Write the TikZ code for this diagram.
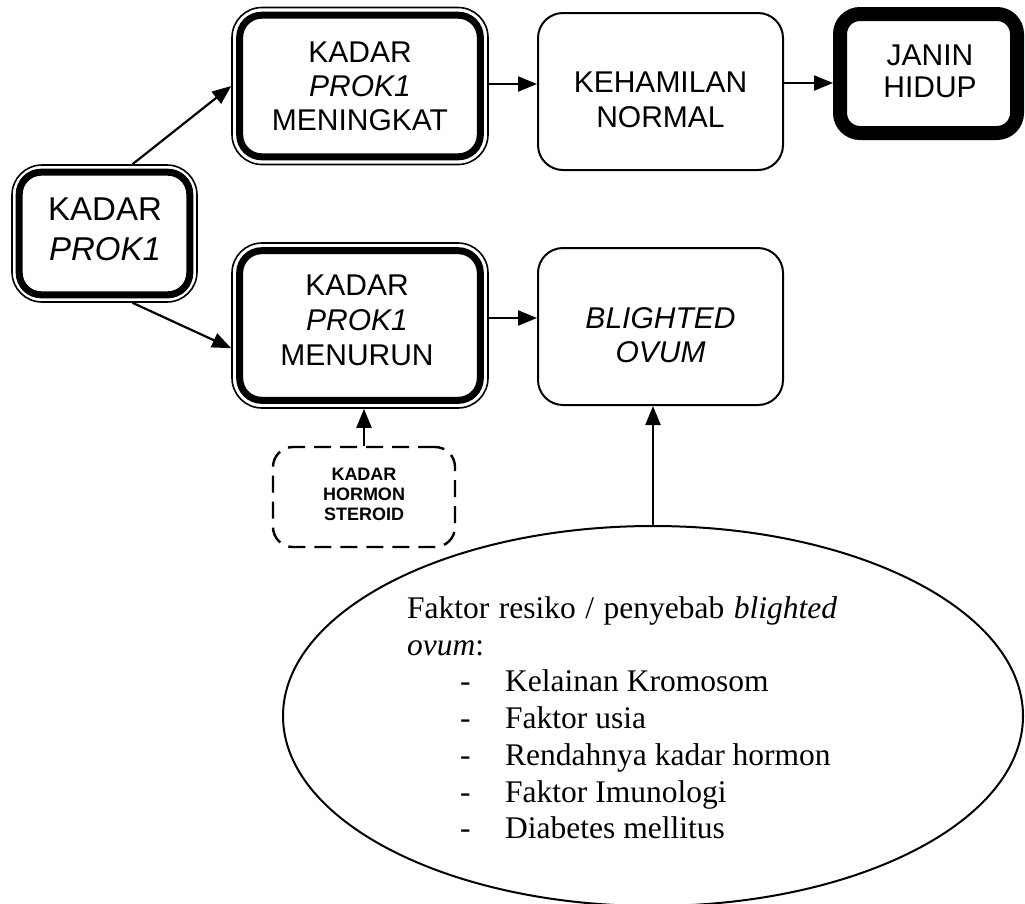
\documentclass[tikz,border=0pt]{standalone}
\usepackage{fontspec}
\setmainfont{Liberation Serif}
\newfontfamily\arialfont{Liberation Sans}
\usetikzlibrary{arrows.meta,calc,shapes.geometric}
\begin{document}
\begin{tikzpicture}[x=1pt,y=-1pt,
  plainbox/.style={draw, line width=2pt, rounded corners=25pt, inner sep=0pt},
  dblbox/.style={draw, line width=1.6pt, rounded corners=30pt, inner sep=0pt},
  innerframe/.style={line width=7pt, rounded corners=22pt},
  heavybox/.style={draw, line width=14pt, rounded corners=20pt, inner sep=0pt},
  dashbox/.style={draw, line width=2.4pt, dash pattern=on 17pt off 9pt, rounded corners=20pt, inner sep=0pt},
  boxtext/.style={align=center, inner sep=0pt, font=\arialfont\fontsize{30}{34}\selectfont},
  arr/.style={line width=2.2pt, -{Triangle[length=19pt,width=15pt]}},
]
\useasboundingbox (0,0) rectangle (1025,903);

% boxes
\node[dblbox, minimum width=185pt, minimum height=137pt] (L) at (104.5,233.5) {};
\draw[innerframe] ($(L.north west)+(8pt,-8pt)$) rectangle ($(L.south east)+(-8pt,8pt)$);
\node[boxtext, font=\arialfont\fontsize{33}{40}\selectfont] (Lt) at (105,229.5) {KADAR\\\textit{PROK1}};

\node[dblbox, minimum width=256pt, minimum height=157pt] (M1) at (360,86) {};
\draw[innerframe] ($(M1.north west)+(8.5pt,-8.5pt)$) rectangle ($(M1.south east)+(-8.5pt,8.5pt)$);
\node[boxtext] (M1t) at (360,86.5) {KADAR\\\textit{PROK1}\\MENINGKAT};

\node[plainbox, minimum width=245pt, minimum height=157pt] (K) at (660.5,91.5) {};
\node[boxtext, font=\arialfont\fontsize{30}{35}\selectfont] (Kt) at (660.5,99.5) {KEHAMILAN\\NORMAL};

\node[heavybox, minimum width=177pt, minimum height=119pt] (J) at (928.5,73.5) {};
\node[boxtext, font=\arialfont\fontsize{30}{32}\selectfont] (Jt) at (930,71) {JANIN\\HIDUP};

\node[dblbox, minimum width=256pt, minimum height=165pt] (M2) at (360,325.5) {};
\draw[innerframe] ($(M2.north west)+(8.5pt,-8.5pt)$) rectangle ($(M2.south east)+(-8.5pt,8.5pt)$);
\node[boxtext, font=\arialfont\fontsize{30}{35}\selectfont] (M2t) at (357,320) {KADAR\\\textit{PROK1}\\MENURUN};

\node[plainbox, minimum width=245pt, minimum height=157pt] (B) at (660.5,326.5) {};
\node[boxtext] (Bt) at (660.5,335) {\textit{BLIGHTED}\\\textit{OVUM}};

\node[dashbox, minimum width=182pt, minimum height=100pt] (S) at (364,497) {};
\node[boxtext, font=\arialfont\bfseries\fontsize{18}{20}\selectfont] (St) at (364,494) {KADAR\\HORMON\\STEROID};

\node[draw, ellipse, line width=2pt, minimum width=740pt, minimum height=380pt, inner sep=0pt] (E) at (653,716) {};
\node[align=left, inner sep=0pt, anchor=north west, font=\fontsize{31.5}{36.7}\selectfont] (Et) at (407,596.5)
 {\makebox[430pt][s]{Faktor resiko / penyebab \textit{blighted}}\\
  \textit{ovum}:\\
  \hspace*{53pt}\makebox[45pt][l]{-}Kelainan Kromosom\\
  \hspace*{53pt}\makebox[45pt][l]{-}Faktor usia\\
  \hspace*{53pt}\makebox[45pt][l]{-}Rendahnya kadar hormon\\
  \hspace*{53pt}\makebox[45pt][l]{-}Faktor Imunologi\\
  \hspace*{53pt}\makebox[45pt][l]{-}Diabetes mellitus};

% connectors
\draw[arr] (L.68) -- (M1.west);
\draw[arr] (L.-68) -- (M2.190);
\draw[arr] ([yshift=2pt]M1.east) -- ([yshift=2pt]M1.east -| K.west);
\draw[arr] ([yshift=8.5pt]K.east) -- ([yshift=8.5pt]K.east -| J.west);
\draw[arr] ([yshift=7.5pt]M2.east) -- ([yshift=7.5pt]M2.east -| B.west);
\draw[arr] (S.north) -- (S.north |- M2.south);
\draw[arr] (E.north) -- (E.north |- B.south);
\end{tikzpicture}
\end{document}
